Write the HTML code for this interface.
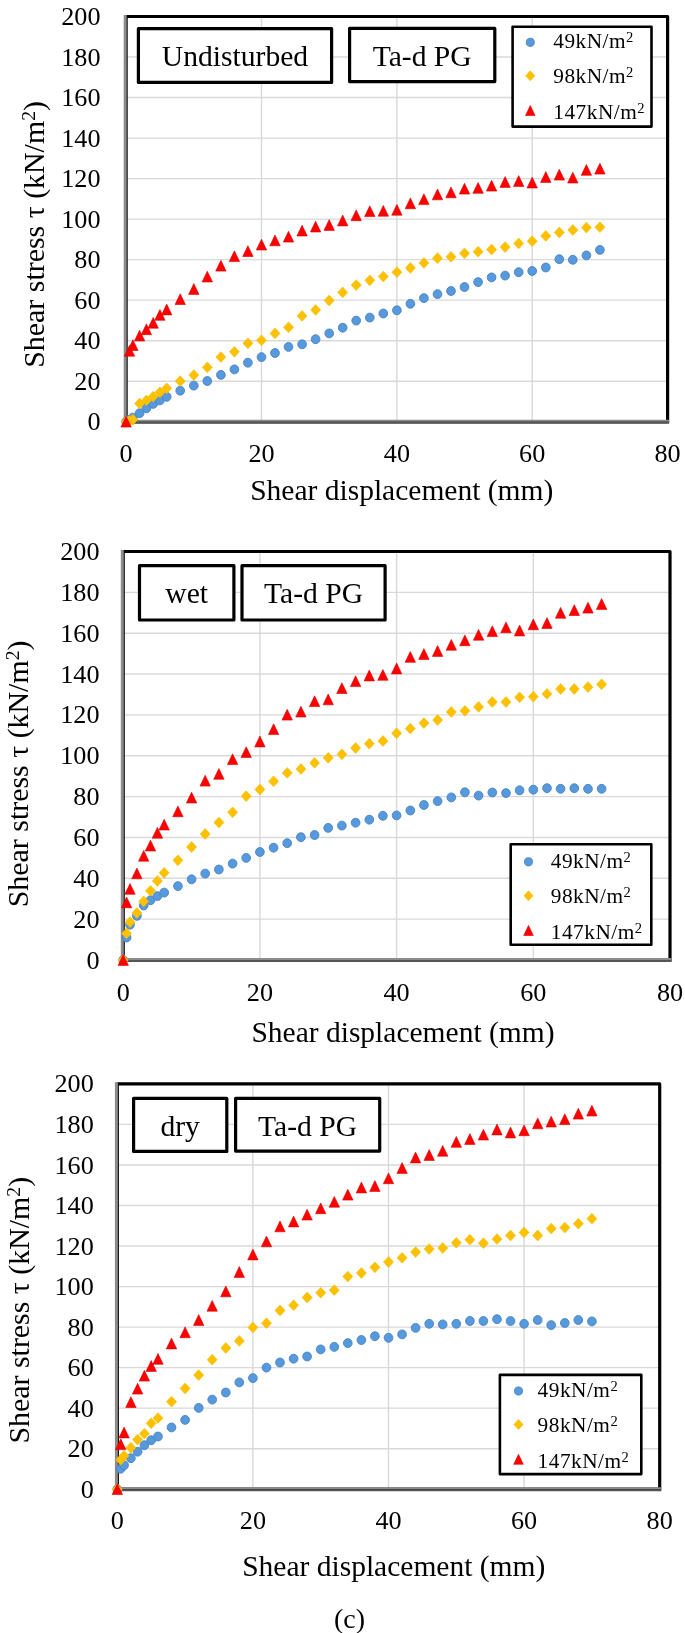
<!DOCTYPE html>
<html><head><meta charset="utf-8"><style>
html,body{margin:0;padding:0;background:#fff;}
svg{display:block;filter:blur(0.4px);}
text{font-family:"Liberation Serif", serif;fill:#000;}
</style></head><body>
<svg width="685" height="1633" viewBox="0 0 685 1633">
<rect width="685" height="1633" fill="#fff"/>
<line x1="126.1" y1="381.2" x2="667.6" y2="381.2" stroke="#d9d9d9" stroke-width="1.4"/>
<line x1="126.1" y1="340.7" x2="667.6" y2="340.7" stroke="#d9d9d9" stroke-width="1.4"/>
<line x1="126.1" y1="300.1" x2="667.6" y2="300.1" stroke="#d9d9d9" stroke-width="1.4"/>
<line x1="126.1" y1="259.6" x2="667.6" y2="259.6" stroke="#d9d9d9" stroke-width="1.4"/>
<line x1="126.1" y1="219.1" x2="667.6" y2="219.1" stroke="#d9d9d9" stroke-width="1.4"/>
<line x1="126.1" y1="178.6" x2="667.6" y2="178.6" stroke="#d9d9d9" stroke-width="1.4"/>
<line x1="126.1" y1="138.1" x2="667.6" y2="138.1" stroke="#d9d9d9" stroke-width="1.4"/>
<line x1="126.1" y1="97.5" x2="667.6" y2="97.5" stroke="#d9d9d9" stroke-width="1.4"/>
<line x1="126.1" y1="57.0" x2="667.6" y2="57.0" stroke="#d9d9d9" stroke-width="1.4"/>
<line x1="261.5" y1="16.5" x2="261.5" y2="421.7" stroke="#d9d9d9" stroke-width="1.4"/>
<line x1="396.9" y1="16.5" x2="396.9" y2="421.7" stroke="#d9d9d9" stroke-width="1.4"/>
<line x1="532.2" y1="16.5" x2="532.2" y2="421.7" stroke="#d9d9d9" stroke-width="1.4"/>
<rect x="126.1" y="16.5" width="541.5" height="405.2" fill="none" stroke="#000" stroke-width="3.2" stroke-linejoin="round"/>
<line x1="125.2" y1="14.9" x2="125.2" y2="423.5" stroke="#8c8c8c" stroke-width="3"/>
<line x1="123.7" y1="420.8" x2="669.2" y2="420.8" stroke="#8c8c8c" stroke-width="2"/>
<line x1="123.7" y1="422.7" x2="669.2" y2="422.7" stroke="#555" stroke-width="2"/>
<rect x="138.4" y="28.7" width="193.2" height="53.7" fill="#fff" stroke="#000" stroke-width="3.2" stroke-linejoin="round"/>
<text x="235.0" y="65.6" font-size="29.6" text-anchor="middle">Undisturbed</text>
<rect x="349.6" y="28.4" width="145.2" height="53.2" fill="#fff" stroke="#000" stroke-width="3.2" stroke-linejoin="round"/>
<text x="422.2" y="65.6" font-size="29.6" text-anchor="middle">Ta-d PG</text>
<ellipse cx="126.1" cy="421.7" rx="4.35" ry="4.45" fill="#5699dc" stroke="#4a83c2" stroke-width="0.9"/>
<ellipse cx="129.5" cy="419.7" rx="4.35" ry="4.45" fill="#5699dc" stroke="#4a83c2" stroke-width="0.9"/>
<ellipse cx="132.9" cy="417.6" rx="4.35" ry="4.45" fill="#5699dc" stroke="#4a83c2" stroke-width="0.9"/>
<ellipse cx="139.6" cy="413.2" rx="4.35" ry="4.45" fill="#5699dc" stroke="#4a83c2" stroke-width="0.9"/>
<ellipse cx="146.4" cy="408.3" rx="4.35" ry="4.45" fill="#5699dc" stroke="#4a83c2" stroke-width="0.9"/>
<ellipse cx="153.2" cy="403.9" rx="4.35" ry="4.45" fill="#5699dc" stroke="#4a83c2" stroke-width="0.9"/>
<ellipse cx="159.9" cy="400.4" rx="4.35" ry="4.45" fill="#5699dc" stroke="#4a83c2" stroke-width="0.9"/>
<ellipse cx="166.7" cy="396.8" rx="4.35" ry="4.45" fill="#5699dc" stroke="#4a83c2" stroke-width="0.9"/>
<ellipse cx="180.2" cy="390.7" rx="4.35" ry="4.45" fill="#5699dc" stroke="#4a83c2" stroke-width="0.9"/>
<ellipse cx="193.8" cy="385.6" rx="4.35" ry="4.45" fill="#5699dc" stroke="#4a83c2" stroke-width="0.9"/>
<ellipse cx="207.3" cy="381.0" rx="4.35" ry="4.45" fill="#5699dc" stroke="#4a83c2" stroke-width="0.9"/>
<ellipse cx="220.9" cy="374.9" rx="4.35" ry="4.45" fill="#5699dc" stroke="#4a83c2" stroke-width="0.9"/>
<ellipse cx="234.4" cy="369.4" rx="4.35" ry="4.45" fill="#5699dc" stroke="#4a83c2" stroke-width="0.9"/>
<ellipse cx="247.9" cy="362.7" rx="4.35" ry="4.45" fill="#5699dc" stroke="#4a83c2" stroke-width="0.9"/>
<ellipse cx="261.5" cy="357.1" rx="4.35" ry="4.45" fill="#5699dc" stroke="#4a83c2" stroke-width="0.9"/>
<ellipse cx="275.0" cy="353.0" rx="4.35" ry="4.45" fill="#5699dc" stroke="#4a83c2" stroke-width="0.9"/>
<ellipse cx="288.5" cy="346.9" rx="4.35" ry="4.45" fill="#5699dc" stroke="#4a83c2" stroke-width="0.9"/>
<ellipse cx="302.1" cy="344.3" rx="4.35" ry="4.45" fill="#5699dc" stroke="#4a83c2" stroke-width="0.9"/>
<ellipse cx="315.6" cy="339.2" rx="4.35" ry="4.45" fill="#5699dc" stroke="#4a83c2" stroke-width="0.9"/>
<ellipse cx="329.2" cy="333.4" rx="4.35" ry="4.45" fill="#5699dc" stroke="#4a83c2" stroke-width="0.9"/>
<ellipse cx="342.7" cy="327.7" rx="4.35" ry="4.45" fill="#5699dc" stroke="#4a83c2" stroke-width="0.9"/>
<ellipse cx="356.2" cy="320.6" rx="4.35" ry="4.45" fill="#5699dc" stroke="#4a83c2" stroke-width="0.9"/>
<ellipse cx="369.8" cy="317.6" rx="4.35" ry="4.45" fill="#5699dc" stroke="#4a83c2" stroke-width="0.9"/>
<ellipse cx="383.3" cy="313.5" rx="4.35" ry="4.45" fill="#5699dc" stroke="#4a83c2" stroke-width="0.9"/>
<ellipse cx="396.9" cy="310.3" rx="4.35" ry="4.45" fill="#5699dc" stroke="#4a83c2" stroke-width="0.9"/>
<ellipse cx="410.4" cy="303.8" rx="4.35" ry="4.45" fill="#5699dc" stroke="#4a83c2" stroke-width="0.9"/>
<ellipse cx="423.9" cy="298.1" rx="4.35" ry="4.45" fill="#5699dc" stroke="#4a83c2" stroke-width="0.9"/>
<ellipse cx="437.5" cy="294.1" rx="4.35" ry="4.45" fill="#5699dc" stroke="#4a83c2" stroke-width="0.9"/>
<ellipse cx="451.0" cy="291.0" rx="4.35" ry="4.45" fill="#5699dc" stroke="#4a83c2" stroke-width="0.9"/>
<ellipse cx="464.5" cy="287.0" rx="4.35" ry="4.45" fill="#5699dc" stroke="#4a83c2" stroke-width="0.9"/>
<ellipse cx="478.1" cy="282.1" rx="4.35" ry="4.45" fill="#5699dc" stroke="#4a83c2" stroke-width="0.9"/>
<ellipse cx="491.6" cy="277.4" rx="4.35" ry="4.45" fill="#5699dc" stroke="#4a83c2" stroke-width="0.9"/>
<ellipse cx="505.1" cy="275.6" rx="4.35" ry="4.45" fill="#5699dc" stroke="#4a83c2" stroke-width="0.9"/>
<ellipse cx="518.7" cy="272.2" rx="4.35" ry="4.45" fill="#5699dc" stroke="#4a83c2" stroke-width="0.9"/>
<ellipse cx="532.2" cy="271.0" rx="4.35" ry="4.45" fill="#5699dc" stroke="#4a83c2" stroke-width="0.9"/>
<ellipse cx="545.8" cy="267.5" rx="4.35" ry="4.45" fill="#5699dc" stroke="#4a83c2" stroke-width="0.9"/>
<ellipse cx="559.3" cy="259.2" rx="4.35" ry="4.45" fill="#5699dc" stroke="#4a83c2" stroke-width="0.9"/>
<ellipse cx="572.8" cy="259.8" rx="4.35" ry="4.45" fill="#5699dc" stroke="#4a83c2" stroke-width="0.9"/>
<ellipse cx="586.4" cy="255.4" rx="4.35" ry="4.45" fill="#5699dc" stroke="#4a83c2" stroke-width="0.9"/>
<ellipse cx="599.9" cy="249.9" rx="4.35" ry="4.45" fill="#5699dc" stroke="#4a83c2" stroke-width="0.9"/>
<path d="M126.1 416.3L131.1 421.7L126.1 427.1L121.1 421.7Z" fill="#ffc000" stroke="#ecbf00" stroke-width="0.6" stroke-linejoin="round"/>
<path d="M129.5 415.3L134.5 420.7L129.5 426.1L124.5 420.7Z" fill="#ffc000" stroke="#ecbf00" stroke-width="0.6" stroke-linejoin="round"/>
<path d="M132.9 414.3L137.9 419.7L132.9 425.1L127.8 419.7Z" fill="#ffc000" stroke="#ecbf00" stroke-width="0.6" stroke-linejoin="round"/>
<path d="M139.6 398.1L144.7 403.5L139.6 408.9L134.6 403.5Z" fill="#ffc000" stroke="#ecbf00" stroke-width="0.6" stroke-linejoin="round"/>
<path d="M146.4 395.0L151.4 400.4L146.4 405.8L141.4 400.4Z" fill="#ffc000" stroke="#ecbf00" stroke-width="0.6" stroke-linejoin="round"/>
<path d="M153.2 391.2L158.2 396.6L153.2 402.0L148.2 396.6Z" fill="#ffc000" stroke="#ecbf00" stroke-width="0.6" stroke-linejoin="round"/>
<path d="M159.9 386.9L165.0 392.3L159.9 397.7L154.9 392.3Z" fill="#ffc000" stroke="#ecbf00" stroke-width="0.6" stroke-linejoin="round"/>
<path d="M166.7 382.9L171.7 388.3L166.7 393.7L161.7 388.3Z" fill="#ffc000" stroke="#ecbf00" stroke-width="0.6" stroke-linejoin="round"/>
<path d="M180.2 375.8L185.3 381.2L180.2 386.6L175.2 381.2Z" fill="#ffc000" stroke="#ecbf00" stroke-width="0.6" stroke-linejoin="round"/>
<path d="M193.8 369.7L198.8 375.1L193.8 380.5L188.8 375.1Z" fill="#ffc000" stroke="#ecbf00" stroke-width="0.6" stroke-linejoin="round"/>
<path d="M207.3 362.0L212.3 367.4L207.3 372.8L202.3 367.4Z" fill="#ffc000" stroke="#ecbf00" stroke-width="0.6" stroke-linejoin="round"/>
<path d="M220.9 351.7L225.9 357.1L220.9 362.5L215.8 357.1Z" fill="#ffc000" stroke="#ecbf00" stroke-width="0.6" stroke-linejoin="round"/>
<path d="M234.4 346.4L239.4 351.8L234.4 357.2L229.4 351.8Z" fill="#ffc000" stroke="#ecbf00" stroke-width="0.6" stroke-linejoin="round"/>
<path d="M247.9 337.9L253.0 343.3L247.9 348.7L242.9 343.3Z" fill="#ffc000" stroke="#ecbf00" stroke-width="0.6" stroke-linejoin="round"/>
<path d="M261.5 334.9L266.5 340.3L261.5 345.7L256.5 340.3Z" fill="#ffc000" stroke="#ecbf00" stroke-width="0.6" stroke-linejoin="round"/>
<path d="M275.0 328.0L280.0 333.4L275.0 338.8L270.0 333.4Z" fill="#ffc000" stroke="#ecbf00" stroke-width="0.6" stroke-linejoin="round"/>
<path d="M288.5 321.9L293.6 327.3L288.5 332.7L283.5 327.3Z" fill="#ffc000" stroke="#ecbf00" stroke-width="0.6" stroke-linejoin="round"/>
<path d="M302.1 310.5L307.1 315.9L302.1 321.3L297.1 315.9Z" fill="#ffc000" stroke="#ecbf00" stroke-width="0.6" stroke-linejoin="round"/>
<path d="M315.6 304.5L320.6 309.9L315.6 315.3L310.6 309.9Z" fill="#ffc000" stroke="#ecbf00" stroke-width="0.6" stroke-linejoin="round"/>
<path d="M329.2 295.1L334.2 300.5L329.2 305.9L324.1 300.5Z" fill="#ffc000" stroke="#ecbf00" stroke-width="0.6" stroke-linejoin="round"/>
<path d="M342.7 287.0L347.7 292.4L342.7 297.8L337.7 292.4Z" fill="#ffc000" stroke="#ecbf00" stroke-width="0.6" stroke-linejoin="round"/>
<path d="M356.2 279.7L361.3 285.1L356.2 290.5L351.2 285.1Z" fill="#ffc000" stroke="#ecbf00" stroke-width="0.6" stroke-linejoin="round"/>
<path d="M369.8 274.9L374.8 280.3L369.8 285.7L364.8 280.3Z" fill="#ffc000" stroke="#ecbf00" stroke-width="0.6" stroke-linejoin="round"/>
<path d="M383.3 271.2L388.3 276.6L383.3 282.0L378.3 276.6Z" fill="#ffc000" stroke="#ecbf00" stroke-width="0.6" stroke-linejoin="round"/>
<path d="M396.9 266.8L401.9 272.2L396.9 277.6L391.8 272.2Z" fill="#ffc000" stroke="#ecbf00" stroke-width="0.6" stroke-linejoin="round"/>
<path d="M410.4 262.5L415.4 267.9L410.4 273.3L405.4 267.9Z" fill="#ffc000" stroke="#ecbf00" stroke-width="0.6" stroke-linejoin="round"/>
<path d="M423.9 257.5L428.9 262.9L423.9 268.3L418.9 262.9Z" fill="#ffc000" stroke="#ecbf00" stroke-width="0.6" stroke-linejoin="round"/>
<path d="M437.5 252.8L442.5 258.2L437.5 263.6L432.4 258.2Z" fill="#ffc000" stroke="#ecbf00" stroke-width="0.6" stroke-linejoin="round"/>
<path d="M451.0 251.4L456.0 256.8L451.0 262.2L446.0 256.8Z" fill="#ffc000" stroke="#ecbf00" stroke-width="0.6" stroke-linejoin="round"/>
<path d="M464.5 247.9L469.6 253.3L464.5 258.7L459.5 253.3Z" fill="#ffc000" stroke="#ecbf00" stroke-width="0.6" stroke-linejoin="round"/>
<path d="M478.1 246.3L483.1 251.7L478.1 257.1L473.1 251.7Z" fill="#ffc000" stroke="#ecbf00" stroke-width="0.6" stroke-linejoin="round"/>
<path d="M491.6 244.1L496.6 249.5L491.6 254.9L486.6 249.5Z" fill="#ffc000" stroke="#ecbf00" stroke-width="0.6" stroke-linejoin="round"/>
<path d="M505.1 241.7L510.2 247.1L505.1 252.5L500.1 247.1Z" fill="#ffc000" stroke="#ecbf00" stroke-width="0.6" stroke-linejoin="round"/>
<path d="M518.7 238.0L523.7 243.4L518.7 248.8L513.7 243.4Z" fill="#ffc000" stroke="#ecbf00" stroke-width="0.6" stroke-linejoin="round"/>
<path d="M532.2 235.8L537.2 241.2L532.2 246.6L527.2 241.2Z" fill="#ffc000" stroke="#ecbf00" stroke-width="0.6" stroke-linejoin="round"/>
<path d="M545.8 230.5L550.8 235.9L545.8 241.3L540.7 235.9Z" fill="#ffc000" stroke="#ecbf00" stroke-width="0.6" stroke-linejoin="round"/>
<path d="M559.3 227.1L564.3 232.5L559.3 237.9L554.3 232.5Z" fill="#ffc000" stroke="#ecbf00" stroke-width="0.6" stroke-linejoin="round"/>
<path d="M572.8 224.6L577.9 230.0L572.8 235.4L567.8 230.0Z" fill="#ffc000" stroke="#ecbf00" stroke-width="0.6" stroke-linejoin="round"/>
<path d="M586.4 222.2L591.4 227.6L586.4 233.0L581.4 227.6Z" fill="#ffc000" stroke="#ecbf00" stroke-width="0.6" stroke-linejoin="round"/>
<path d="M599.9 221.8L604.9 227.2L599.9 232.6L594.9 227.2Z" fill="#ffc000" stroke="#ecbf00" stroke-width="0.6" stroke-linejoin="round"/>
<path d="M126.1 416.3L131.3 427.1L120.9 427.1Z" fill="#ff0000" stroke="#d80000" stroke-width="0.6" stroke-linejoin="round"/>
<path d="M129.5 345.4L134.7 356.2L124.3 356.2Z" fill="#ff0000" stroke="#d80000" stroke-width="0.6" stroke-linejoin="round"/>
<path d="M132.9 339.7L138.1 350.5L127.7 350.5Z" fill="#ff0000" stroke="#d80000" stroke-width="0.6" stroke-linejoin="round"/>
<path d="M139.6 330.2L144.8 341.0L134.4 341.0Z" fill="#ff0000" stroke="#d80000" stroke-width="0.6" stroke-linejoin="round"/>
<path d="M146.4 323.9L151.6 334.7L141.2 334.7Z" fill="#ff0000" stroke="#d80000" stroke-width="0.6" stroke-linejoin="round"/>
<path d="M153.2 317.4L158.4 328.2L148.0 328.2Z" fill="#ff0000" stroke="#d80000" stroke-width="0.6" stroke-linejoin="round"/>
<path d="M159.9 309.5L165.1 320.3L154.7 320.3Z" fill="#ff0000" stroke="#d80000" stroke-width="0.6" stroke-linejoin="round"/>
<path d="M166.7 304.1L171.9 314.9L161.5 314.9Z" fill="#ff0000" stroke="#d80000" stroke-width="0.6" stroke-linejoin="round"/>
<path d="M180.2 293.7L185.4 304.5L175.1 304.5Z" fill="#ff0000" stroke="#d80000" stroke-width="0.6" stroke-linejoin="round"/>
<path d="M193.8 283.6L199.0 294.4L188.6 294.4Z" fill="#ff0000" stroke="#d80000" stroke-width="0.6" stroke-linejoin="round"/>
<path d="M207.3 271.2L212.5 282.0L202.1 282.0Z" fill="#ff0000" stroke="#d80000" stroke-width="0.6" stroke-linejoin="round"/>
<path d="M220.9 260.3L226.1 271.1L215.7 271.1Z" fill="#ff0000" stroke="#d80000" stroke-width="0.6" stroke-linejoin="round"/>
<path d="M234.4 250.8L239.6 261.6L229.2 261.6Z" fill="#ff0000" stroke="#d80000" stroke-width="0.6" stroke-linejoin="round"/>
<path d="M247.9 245.7L253.1 256.5L242.7 256.5Z" fill="#ff0000" stroke="#d80000" stroke-width="0.6" stroke-linejoin="round"/>
<path d="M261.5 239.2L266.7 250.0L256.3 250.0Z" fill="#ff0000" stroke="#d80000" stroke-width="0.6" stroke-linejoin="round"/>
<path d="M275.0 235.0L280.2 245.8L269.8 245.8Z" fill="#ff0000" stroke="#d80000" stroke-width="0.6" stroke-linejoin="round"/>
<path d="M288.5 231.3L293.7 242.1L283.3 242.1Z" fill="#ff0000" stroke="#d80000" stroke-width="0.6" stroke-linejoin="round"/>
<path d="M302.1 225.2L307.3 236.0L296.9 236.0Z" fill="#ff0000" stroke="#d80000" stroke-width="0.6" stroke-linejoin="round"/>
<path d="M315.6 221.2L320.8 232.0L310.4 232.0Z" fill="#ff0000" stroke="#d80000" stroke-width="0.6" stroke-linejoin="round"/>
<path d="M329.2 219.6L334.4 230.4L324.0 230.4Z" fill="#ff0000" stroke="#d80000" stroke-width="0.6" stroke-linejoin="round"/>
<path d="M342.7 215.1L347.9 225.9L337.5 225.9Z" fill="#ff0000" stroke="#d80000" stroke-width="0.6" stroke-linejoin="round"/>
<path d="M356.2 209.9L361.4 220.7L351.0 220.7Z" fill="#ff0000" stroke="#d80000" stroke-width="0.6" stroke-linejoin="round"/>
<path d="M369.8 205.8L375.0 216.6L364.6 216.6Z" fill="#ff0000" stroke="#d80000" stroke-width="0.6" stroke-linejoin="round"/>
<path d="M383.3 205.4L388.5 216.2L378.1 216.2Z" fill="#ff0000" stroke="#d80000" stroke-width="0.6" stroke-linejoin="round"/>
<path d="M396.9 204.4L402.1 215.2L391.7 215.2Z" fill="#ff0000" stroke="#d80000" stroke-width="0.6" stroke-linejoin="round"/>
<path d="M410.4 197.9L415.6 208.7L405.2 208.7Z" fill="#ff0000" stroke="#d80000" stroke-width="0.6" stroke-linejoin="round"/>
<path d="M423.9 193.8L429.1 204.6L418.7 204.6Z" fill="#ff0000" stroke="#d80000" stroke-width="0.6" stroke-linejoin="round"/>
<path d="M437.5 189.0L442.7 199.8L432.3 199.8Z" fill="#ff0000" stroke="#d80000" stroke-width="0.6" stroke-linejoin="round"/>
<path d="M451.0 187.0L456.2 197.8L445.8 197.8Z" fill="#ff0000" stroke="#d80000" stroke-width="0.6" stroke-linejoin="round"/>
<path d="M464.5 183.3L469.7 194.1L459.3 194.1Z" fill="#ff0000" stroke="#d80000" stroke-width="0.6" stroke-linejoin="round"/>
<path d="M478.1 182.5L483.3 193.3L472.9 193.3Z" fill="#ff0000" stroke="#d80000" stroke-width="0.6" stroke-linejoin="round"/>
<path d="M491.6 180.3L496.8 191.1L486.4 191.1Z" fill="#ff0000" stroke="#d80000" stroke-width="0.6" stroke-linejoin="round"/>
<path d="M505.1 176.6L510.3 187.4L499.9 187.4Z" fill="#ff0000" stroke="#d80000" stroke-width="0.6" stroke-linejoin="round"/>
<path d="M518.7 175.6L523.9 186.4L513.5 186.4Z" fill="#ff0000" stroke="#d80000" stroke-width="0.6" stroke-linejoin="round"/>
<path d="M532.2 177.2L537.4 188.0L527.0 188.0Z" fill="#ff0000" stroke="#d80000" stroke-width="0.6" stroke-linejoin="round"/>
<path d="M545.8 171.6L551.0 182.4L540.6 182.4Z" fill="#ff0000" stroke="#d80000" stroke-width="0.6" stroke-linejoin="round"/>
<path d="M559.3 169.3L564.5 180.1L554.1 180.1Z" fill="#ff0000" stroke="#d80000" stroke-width="0.6" stroke-linejoin="round"/>
<path d="M572.8 172.2L578.0 183.0L567.6 183.0Z" fill="#ff0000" stroke="#d80000" stroke-width="0.6" stroke-linejoin="round"/>
<path d="M586.4 164.5L591.6 175.3L581.2 175.3Z" fill="#ff0000" stroke="#d80000" stroke-width="0.6" stroke-linejoin="round"/>
<path d="M599.9 163.3L605.1 174.1L594.7 174.1Z" fill="#ff0000" stroke="#d80000" stroke-width="0.6" stroke-linejoin="round"/>
<rect x="512.6" y="26.7" width="138.9" height="99.9" fill="#fff" stroke="#000" stroke-width="2.6" stroke-linejoin="round"/>
<ellipse cx="530.3" cy="42.3" rx="4.0" ry="4.10" fill="#5699dc" stroke="#4a83c2" stroke-width="0.9"/>
<path d="M530.3 70.8L534.9 75.8L530.3 80.8L525.6 75.8Z" fill="#ffc000" stroke="#ecbf00" stroke-width="0.6" stroke-linejoin="round"/>
<path d="M530.3 105.5L535.1 115.5L525.5 115.5Z" fill="#ff0000" stroke="#d80000" stroke-width="0.6" stroke-linejoin="round"/>
<text x="553.3" y="47.8" font-size="21.3" letter-spacing="0.5">49kN/m<tspan font-size="14.5" dy="-6.0">2</tspan></text>
<text x="553.3" y="82.5" font-size="21.3" letter-spacing="0.5">98kN/m<tspan font-size="14.5" dy="-6.0">2</tspan></text>
<text x="553.3" y="118.7" font-size="21.3" letter-spacing="0.5">147kN/m<tspan font-size="14.5" dy="-6.0">2</tspan></text>
<text x="100.5" y="430.2" font-size="26.2" text-anchor="end">0</text>
<text x="100.5" y="389.7" font-size="26.2" text-anchor="end">20</text>
<text x="100.5" y="349.2" font-size="26.2" text-anchor="end">40</text>
<text x="100.5" y="308.6" font-size="26.2" text-anchor="end">60</text>
<text x="100.5" y="268.1" font-size="26.2" text-anchor="end">80</text>
<text x="100.5" y="227.6" font-size="26.2" text-anchor="end">100</text>
<text x="100.5" y="187.1" font-size="26.2" text-anchor="end">120</text>
<text x="100.5" y="146.6" font-size="26.2" text-anchor="end">140</text>
<text x="100.5" y="106.0" font-size="26.2" text-anchor="end">160</text>
<text x="100.5" y="65.5" font-size="26.2" text-anchor="end">180</text>
<text x="100.5" y="25.0" font-size="26.2" text-anchor="end">200</text>
<text x="126.1" y="462.2" font-size="26.2" text-anchor="middle">0</text>
<text x="261.5" y="462.2" font-size="26.2" text-anchor="middle">20</text>
<text x="396.9" y="462.2" font-size="26.2" text-anchor="middle">40</text>
<text x="532.2" y="462.2" font-size="26.2" text-anchor="middle">60</text>
<text x="667.6" y="462.2" font-size="26.2" text-anchor="middle">80</text>
<text x="250.2" y="500.3" font-size="29.5">Shear displacement (mm)</text>
<text transform="translate(44.0 234.4) rotate(-90)" x="0" y="0" font-size="29.9" text-anchor="middle">Shear stress &#964; (kN/m<tspan font-size="19.7" dy="-9.0">2</tspan><tspan dy="9.0">)</tspan></text>
<line x1="123.2" y1="919.1" x2="670.0" y2="919.1" stroke="#d9d9d9" stroke-width="1.4"/>
<line x1="123.2" y1="878.3" x2="670.0" y2="878.3" stroke="#d9d9d9" stroke-width="1.4"/>
<line x1="123.2" y1="837.5" x2="670.0" y2="837.5" stroke="#d9d9d9" stroke-width="1.4"/>
<line x1="123.2" y1="796.6" x2="670.0" y2="796.6" stroke="#d9d9d9" stroke-width="1.4"/>
<line x1="123.2" y1="755.8" x2="670.0" y2="755.8" stroke="#d9d9d9" stroke-width="1.4"/>
<line x1="123.2" y1="714.9" x2="670.0" y2="714.9" stroke="#d9d9d9" stroke-width="1.4"/>
<line x1="123.2" y1="674.0" x2="670.0" y2="674.0" stroke="#d9d9d9" stroke-width="1.4"/>
<line x1="123.2" y1="633.2" x2="670.0" y2="633.2" stroke="#d9d9d9" stroke-width="1.4"/>
<line x1="123.2" y1="592.4" x2="670.0" y2="592.4" stroke="#d9d9d9" stroke-width="1.4"/>
<line x1="259.9" y1="551.5" x2="259.9" y2="960.0" stroke="#d9d9d9" stroke-width="1.4"/>
<line x1="396.6" y1="551.5" x2="396.6" y2="960.0" stroke="#d9d9d9" stroke-width="1.4"/>
<line x1="533.3" y1="551.5" x2="533.3" y2="960.0" stroke="#d9d9d9" stroke-width="1.4"/>
<rect x="123.2" y="551.5" width="546.8" height="408.5" fill="none" stroke="#000" stroke-width="3.2" stroke-linejoin="round"/>
<line x1="122.3" y1="549.9" x2="122.3" y2="961.8" stroke="#8c8c8c" stroke-width="3"/>
<line x1="120.8" y1="959.1" x2="671.6" y2="959.1" stroke="#8c8c8c" stroke-width="2"/>
<line x1="120.8" y1="961.0" x2="671.6" y2="961.0" stroke="#555" stroke-width="2"/>
<rect x="139.5" y="565.7" width="94.4" height="54.3" fill="#fff" stroke="#000" stroke-width="3.2" stroke-linejoin="round"/>
<text x="186.7" y="602.7" font-size="29.6" text-anchor="middle">wet</text>
<rect x="242.0" y="565.7" width="143.1" height="54.3" fill="#fff" stroke="#000" stroke-width="3.2" stroke-linejoin="round"/>
<text x="313.6" y="602.7" font-size="29.6" text-anchor="middle">Ta-d PG</text>
<ellipse cx="123.2" cy="960.0" rx="4.35" ry="4.45" fill="#5699dc" stroke="#4a83c2" stroke-width="0.9"/>
<ellipse cx="126.6" cy="937.5" rx="4.35" ry="4.45" fill="#5699dc" stroke="#4a83c2" stroke-width="0.9"/>
<ellipse cx="130.0" cy="924.7" rx="4.35" ry="4.45" fill="#5699dc" stroke="#4a83c2" stroke-width="0.9"/>
<ellipse cx="136.9" cy="915.9" rx="4.35" ry="4.45" fill="#5699dc" stroke="#4a83c2" stroke-width="0.9"/>
<ellipse cx="143.7" cy="905.5" rx="4.35" ry="4.45" fill="#5699dc" stroke="#4a83c2" stroke-width="0.9"/>
<ellipse cx="150.5" cy="900.2" rx="4.35" ry="4.45" fill="#5699dc" stroke="#4a83c2" stroke-width="0.9"/>
<ellipse cx="157.4" cy="896.1" rx="4.35" ry="4.45" fill="#5699dc" stroke="#4a83c2" stroke-width="0.9"/>
<ellipse cx="164.2" cy="892.6" rx="4.35" ry="4.45" fill="#5699dc" stroke="#4a83c2" stroke-width="0.9"/>
<ellipse cx="177.9" cy="886.1" rx="4.35" ry="4.45" fill="#5699dc" stroke="#4a83c2" stroke-width="0.9"/>
<ellipse cx="191.6" cy="879.3" rx="4.35" ry="4.45" fill="#5699dc" stroke="#4a83c2" stroke-width="0.9"/>
<ellipse cx="205.2" cy="873.6" rx="4.35" ry="4.45" fill="#5699dc" stroke="#4a83c2" stroke-width="0.9"/>
<ellipse cx="218.9" cy="869.5" rx="4.35" ry="4.45" fill="#5699dc" stroke="#4a83c2" stroke-width="0.9"/>
<ellipse cx="232.6" cy="863.6" rx="4.35" ry="4.45" fill="#5699dc" stroke="#4a83c2" stroke-width="0.9"/>
<ellipse cx="246.2" cy="857.9" rx="4.35" ry="4.45" fill="#5699dc" stroke="#4a83c2" stroke-width="0.9"/>
<ellipse cx="259.9" cy="852.0" rx="4.35" ry="4.45" fill="#5699dc" stroke="#4a83c2" stroke-width="0.9"/>
<ellipse cx="273.6" cy="847.7" rx="4.35" ry="4.45" fill="#5699dc" stroke="#4a83c2" stroke-width="0.9"/>
<ellipse cx="287.2" cy="843.2" rx="4.35" ry="4.45" fill="#5699dc" stroke="#4a83c2" stroke-width="0.9"/>
<ellipse cx="300.9" cy="837.2" rx="4.35" ry="4.45" fill="#5699dc" stroke="#4a83c2" stroke-width="0.9"/>
<ellipse cx="314.6" cy="835.0" rx="4.35" ry="4.45" fill="#5699dc" stroke="#4a83c2" stroke-width="0.9"/>
<ellipse cx="328.2" cy="827.9" rx="4.35" ry="4.45" fill="#5699dc" stroke="#4a83c2" stroke-width="0.9"/>
<ellipse cx="341.9" cy="825.6" rx="4.35" ry="4.45" fill="#5699dc" stroke="#4a83c2" stroke-width="0.9"/>
<ellipse cx="355.6" cy="822.7" rx="4.35" ry="4.45" fill="#5699dc" stroke="#4a83c2" stroke-width="0.9"/>
<ellipse cx="369.3" cy="819.7" rx="4.35" ry="4.45" fill="#5699dc" stroke="#4a83c2" stroke-width="0.9"/>
<ellipse cx="382.9" cy="815.8" rx="4.35" ry="4.45" fill="#5699dc" stroke="#4a83c2" stroke-width="0.9"/>
<ellipse cx="396.6" cy="815.4" rx="4.35" ry="4.45" fill="#5699dc" stroke="#4a83c2" stroke-width="0.9"/>
<ellipse cx="410.3" cy="810.5" rx="4.35" ry="4.45" fill="#5699dc" stroke="#4a83c2" stroke-width="0.9"/>
<ellipse cx="423.9" cy="805.0" rx="4.35" ry="4.45" fill="#5699dc" stroke="#4a83c2" stroke-width="0.9"/>
<ellipse cx="437.6" cy="801.1" rx="4.35" ry="4.45" fill="#5699dc" stroke="#4a83c2" stroke-width="0.9"/>
<ellipse cx="451.3" cy="797.4" rx="4.35" ry="4.45" fill="#5699dc" stroke="#4a83c2" stroke-width="0.9"/>
<ellipse cx="464.9" cy="792.3" rx="4.35" ry="4.45" fill="#5699dc" stroke="#4a83c2" stroke-width="0.9"/>
<ellipse cx="478.6" cy="795.6" rx="4.35" ry="4.45" fill="#5699dc" stroke="#4a83c2" stroke-width="0.9"/>
<ellipse cx="492.3" cy="792.5" rx="4.35" ry="4.45" fill="#5699dc" stroke="#4a83c2" stroke-width="0.9"/>
<ellipse cx="506.0" cy="793.1" rx="4.35" ry="4.45" fill="#5699dc" stroke="#4a83c2" stroke-width="0.9"/>
<ellipse cx="519.6" cy="790.3" rx="4.35" ry="4.45" fill="#5699dc" stroke="#4a83c2" stroke-width="0.9"/>
<ellipse cx="533.3" cy="789.7" rx="4.35" ry="4.45" fill="#5699dc" stroke="#4a83c2" stroke-width="0.9"/>
<ellipse cx="547.0" cy="788.2" rx="4.35" ry="4.45" fill="#5699dc" stroke="#4a83c2" stroke-width="0.9"/>
<ellipse cx="560.6" cy="788.8" rx="4.35" ry="4.45" fill="#5699dc" stroke="#4a83c2" stroke-width="0.9"/>
<ellipse cx="574.3" cy="788.2" rx="4.35" ry="4.45" fill="#5699dc" stroke="#4a83c2" stroke-width="0.9"/>
<ellipse cx="588.0" cy="788.8" rx="4.35" ry="4.45" fill="#5699dc" stroke="#4a83c2" stroke-width="0.9"/>
<ellipse cx="601.6" cy="788.8" rx="4.35" ry="4.45" fill="#5699dc" stroke="#4a83c2" stroke-width="0.9"/>
<path d="M123.2 954.6L128.2 960.0L123.2 965.4L118.2 960.0Z" fill="#ffc000" stroke="#ecbf00" stroke-width="0.6" stroke-linejoin="round"/>
<path d="M126.6 928.0L131.6 933.4L126.6 938.8L121.6 933.4Z" fill="#ffc000" stroke="#ecbf00" stroke-width="0.6" stroke-linejoin="round"/>
<path d="M130.0 916.8L135.1 922.2L130.0 927.6L125.0 922.2Z" fill="#ffc000" stroke="#ecbf00" stroke-width="0.6" stroke-linejoin="round"/>
<path d="M136.9 907.6L141.9 913.0L136.9 918.4L131.8 913.0Z" fill="#ffc000" stroke="#ecbf00" stroke-width="0.6" stroke-linejoin="round"/>
<path d="M143.7 896.0L148.7 901.4L143.7 906.8L138.7 901.4Z" fill="#ffc000" stroke="#ecbf00" stroke-width="0.6" stroke-linejoin="round"/>
<path d="M150.5 885.4L155.6 890.8L150.5 896.2L145.5 890.8Z" fill="#ffc000" stroke="#ecbf00" stroke-width="0.6" stroke-linejoin="round"/>
<path d="M157.4 875.6L162.4 881.0L157.4 886.4L152.4 881.0Z" fill="#ffc000" stroke="#ecbf00" stroke-width="0.6" stroke-linejoin="round"/>
<path d="M164.2 867.4L169.2 872.8L164.2 878.2L159.2 872.8Z" fill="#ffc000" stroke="#ecbf00" stroke-width="0.6" stroke-linejoin="round"/>
<path d="M177.9 854.9L182.9 860.3L177.9 865.7L172.9 860.3Z" fill="#ffc000" stroke="#ecbf00" stroke-width="0.6" stroke-linejoin="round"/>
<path d="M191.6 841.6L196.6 847.0L191.6 852.4L186.5 847.0Z" fill="#ffc000" stroke="#ecbf00" stroke-width="0.6" stroke-linejoin="round"/>
<path d="M205.2 828.6L210.2 834.0L205.2 839.4L200.2 834.0Z" fill="#ffc000" stroke="#ecbf00" stroke-width="0.6" stroke-linejoin="round"/>
<path d="M218.9 817.1L223.9 822.5L218.9 827.9L213.9 822.5Z" fill="#ffc000" stroke="#ecbf00" stroke-width="0.6" stroke-linejoin="round"/>
<path d="M232.6 806.9L237.6 812.3L232.6 817.7L227.5 812.3Z" fill="#ffc000" stroke="#ecbf00" stroke-width="0.6" stroke-linejoin="round"/>
<path d="M246.2 790.8L251.3 796.2L246.2 801.6L241.2 796.2Z" fill="#ffc000" stroke="#ecbf00" stroke-width="0.6" stroke-linejoin="round"/>
<path d="M259.9 784.1L264.9 789.5L259.9 794.9L254.9 789.5Z" fill="#ffc000" stroke="#ecbf00" stroke-width="0.6" stroke-linejoin="round"/>
<path d="M273.6 775.9L278.6 781.3L273.6 786.7L268.5 781.3Z" fill="#ffc000" stroke="#ecbf00" stroke-width="0.6" stroke-linejoin="round"/>
<path d="M287.2 767.5L292.3 772.9L287.2 778.3L282.2 772.9Z" fill="#ffc000" stroke="#ecbf00" stroke-width="0.6" stroke-linejoin="round"/>
<path d="M300.9 763.6L305.9 769.0L300.9 774.4L295.9 769.0Z" fill="#ffc000" stroke="#ecbf00" stroke-width="0.6" stroke-linejoin="round"/>
<path d="M314.6 757.5L319.6 762.9L314.6 768.3L309.6 762.9Z" fill="#ffc000" stroke="#ecbf00" stroke-width="0.6" stroke-linejoin="round"/>
<path d="M328.2 752.4L333.3 757.8L328.2 763.2L323.2 757.8Z" fill="#ffc000" stroke="#ecbf00" stroke-width="0.6" stroke-linejoin="round"/>
<path d="M341.9 748.9L346.9 754.3L341.9 759.7L336.9 754.3Z" fill="#ffc000" stroke="#ecbf00" stroke-width="0.6" stroke-linejoin="round"/>
<path d="M355.6 742.6L360.6 748.0L355.6 753.4L350.6 748.0Z" fill="#ffc000" stroke="#ecbf00" stroke-width="0.6" stroke-linejoin="round"/>
<path d="M369.3 738.3L374.3 743.7L369.3 749.1L364.2 743.7Z" fill="#ffc000" stroke="#ecbf00" stroke-width="0.6" stroke-linejoin="round"/>
<path d="M382.9 735.6L388.0 741.0L382.9 746.4L377.9 741.0Z" fill="#ffc000" stroke="#ecbf00" stroke-width="0.6" stroke-linejoin="round"/>
<path d="M396.6 727.9L401.6 733.3L396.6 738.7L391.6 733.3Z" fill="#ffc000" stroke="#ecbf00" stroke-width="0.6" stroke-linejoin="round"/>
<path d="M410.3 723.2L415.3 728.6L410.3 734.0L405.2 728.6Z" fill="#ffc000" stroke="#ecbf00" stroke-width="0.6" stroke-linejoin="round"/>
<path d="M423.9 717.7L429.0 723.1L423.9 728.5L418.9 723.1Z" fill="#ffc000" stroke="#ecbf00" stroke-width="0.6" stroke-linejoin="round"/>
<path d="M437.6 714.6L442.6 720.0L437.6 725.4L432.6 720.0Z" fill="#ffc000" stroke="#ecbf00" stroke-width="0.6" stroke-linejoin="round"/>
<path d="M451.3 706.6L456.3 712.0L451.3 717.4L446.3 712.0Z" fill="#ffc000" stroke="#ecbf00" stroke-width="0.6" stroke-linejoin="round"/>
<path d="M464.9 705.4L470.0 710.8L464.9 716.2L459.9 710.8Z" fill="#ffc000" stroke="#ecbf00" stroke-width="0.6" stroke-linejoin="round"/>
<path d="M478.6 701.5L483.6 706.9L478.6 712.3L473.6 706.9Z" fill="#ffc000" stroke="#ecbf00" stroke-width="0.6" stroke-linejoin="round"/>
<path d="M492.3 696.6L497.3 702.0L492.3 707.4L487.3 702.0Z" fill="#ffc000" stroke="#ecbf00" stroke-width="0.6" stroke-linejoin="round"/>
<path d="M506.0 696.6L511.0 702.0L506.0 707.4L500.9 702.0Z" fill="#ffc000" stroke="#ecbf00" stroke-width="0.6" stroke-linejoin="round"/>
<path d="M519.6 691.9L524.7 697.3L519.6 702.7L514.6 697.3Z" fill="#ffc000" stroke="#ecbf00" stroke-width="0.6" stroke-linejoin="round"/>
<path d="M533.3 691.3L538.3 696.7L533.3 702.1L528.3 696.7Z" fill="#ffc000" stroke="#ecbf00" stroke-width="0.6" stroke-linejoin="round"/>
<path d="M547.0 688.5L552.0 693.9L547.0 699.3L541.9 693.9Z" fill="#ffc000" stroke="#ecbf00" stroke-width="0.6" stroke-linejoin="round"/>
<path d="M560.6 683.6L565.7 689.0L560.6 694.4L555.6 689.0Z" fill="#ffc000" stroke="#ecbf00" stroke-width="0.6" stroke-linejoin="round"/>
<path d="M574.3 683.6L579.3 689.0L574.3 694.4L569.3 689.0Z" fill="#ffc000" stroke="#ecbf00" stroke-width="0.6" stroke-linejoin="round"/>
<path d="M588.0 681.7L593.0 687.1L588.0 692.5L583.0 687.1Z" fill="#ffc000" stroke="#ecbf00" stroke-width="0.6" stroke-linejoin="round"/>
<path d="M601.6 678.9L606.7 684.3L601.6 689.7L596.6 684.3Z" fill="#ffc000" stroke="#ecbf00" stroke-width="0.6" stroke-linejoin="round"/>
<path d="M123.2 954.6L128.4 965.4L118.0 965.4Z" fill="#ff0000" stroke="#d80000" stroke-width="0.6" stroke-linejoin="round"/>
<path d="M126.6 897.0L131.8 907.8L121.4 907.8Z" fill="#ff0000" stroke="#d80000" stroke-width="0.6" stroke-linejoin="round"/>
<path d="M130.0 883.5L135.2 894.3L124.8 894.3Z" fill="#ff0000" stroke="#d80000" stroke-width="0.6" stroke-linejoin="round"/>
<path d="M136.9 868.0L142.1 878.8L131.7 878.8Z" fill="#ff0000" stroke="#d80000" stroke-width="0.6" stroke-linejoin="round"/>
<path d="M143.7 850.4L148.9 861.2L138.5 861.2Z" fill="#ff0000" stroke="#d80000" stroke-width="0.6" stroke-linejoin="round"/>
<path d="M150.5 840.2L155.7 851.0L145.3 851.0Z" fill="#ff0000" stroke="#d80000" stroke-width="0.6" stroke-linejoin="round"/>
<path d="M157.4 827.4L162.6 838.2L152.2 838.2Z" fill="#ff0000" stroke="#d80000" stroke-width="0.6" stroke-linejoin="round"/>
<path d="M164.2 819.2L169.4 830.0L159.0 830.0Z" fill="#ff0000" stroke="#d80000" stroke-width="0.6" stroke-linejoin="round"/>
<path d="M177.9 805.9L183.1 816.7L172.7 816.7Z" fill="#ff0000" stroke="#d80000" stroke-width="0.6" stroke-linejoin="round"/>
<path d="M191.6 792.2L196.8 803.0L186.4 803.0Z" fill="#ff0000" stroke="#d80000" stroke-width="0.6" stroke-linejoin="round"/>
<path d="M205.2 775.3L210.4 786.1L200.0 786.1Z" fill="#ff0000" stroke="#d80000" stroke-width="0.6" stroke-linejoin="round"/>
<path d="M218.9 768.5L224.1 779.3L213.7 779.3Z" fill="#ff0000" stroke="#d80000" stroke-width="0.6" stroke-linejoin="round"/>
<path d="M232.6 753.8L237.8 764.6L227.4 764.6Z" fill="#ff0000" stroke="#d80000" stroke-width="0.6" stroke-linejoin="round"/>
<path d="M246.2 746.7L251.4 757.5L241.0 757.5Z" fill="#ff0000" stroke="#d80000" stroke-width="0.6" stroke-linejoin="round"/>
<path d="M259.9 736.1L265.1 746.9L254.7 746.9Z" fill="#ff0000" stroke="#d80000" stroke-width="0.6" stroke-linejoin="round"/>
<path d="M273.6 723.8L278.8 734.6L268.4 734.6Z" fill="#ff0000" stroke="#d80000" stroke-width="0.6" stroke-linejoin="round"/>
<path d="M287.2 709.3L292.4 720.1L282.0 720.1Z" fill="#ff0000" stroke="#d80000" stroke-width="0.6" stroke-linejoin="round"/>
<path d="M300.9 706.2L306.1 717.0L295.7 717.0Z" fill="#ff0000" stroke="#d80000" stroke-width="0.6" stroke-linejoin="round"/>
<path d="M314.6 695.8L319.8 706.6L309.4 706.6Z" fill="#ff0000" stroke="#d80000" stroke-width="0.6" stroke-linejoin="round"/>
<path d="M328.2 694.0L333.4 704.8L323.1 704.8Z" fill="#ff0000" stroke="#d80000" stroke-width="0.6" stroke-linejoin="round"/>
<path d="M341.9 682.7L347.1 693.5L336.7 693.5Z" fill="#ff0000" stroke="#d80000" stroke-width="0.6" stroke-linejoin="round"/>
<path d="M355.6 675.8L360.8 686.6L350.4 686.6Z" fill="#ff0000" stroke="#d80000" stroke-width="0.6" stroke-linejoin="round"/>
<path d="M369.3 670.1L374.5 680.9L364.1 680.9Z" fill="#ff0000" stroke="#d80000" stroke-width="0.6" stroke-linejoin="round"/>
<path d="M382.9 669.5L388.1 680.3L377.7 680.3Z" fill="#ff0000" stroke="#d80000" stroke-width="0.6" stroke-linejoin="round"/>
<path d="M396.6 663.1L401.8 673.9L391.4 673.9Z" fill="#ff0000" stroke="#d80000" stroke-width="0.6" stroke-linejoin="round"/>
<path d="M410.3 651.5L415.5 662.3L405.1 662.3Z" fill="#ff0000" stroke="#d80000" stroke-width="0.6" stroke-linejoin="round"/>
<path d="M423.9 648.6L429.1 659.4L418.7 659.4Z" fill="#ff0000" stroke="#d80000" stroke-width="0.6" stroke-linejoin="round"/>
<path d="M437.6 645.6L442.8 656.4L432.4 656.4Z" fill="#ff0000" stroke="#d80000" stroke-width="0.6" stroke-linejoin="round"/>
<path d="M451.3 639.4L456.5 650.2L446.1 650.2Z" fill="#ff0000" stroke="#d80000" stroke-width="0.6" stroke-linejoin="round"/>
<path d="M464.9 634.9L470.1 645.7L459.7 645.7Z" fill="#ff0000" stroke="#d80000" stroke-width="0.6" stroke-linejoin="round"/>
<path d="M478.6 629.4L483.8 640.2L473.4 640.2Z" fill="#ff0000" stroke="#d80000" stroke-width="0.6" stroke-linejoin="round"/>
<path d="M492.3 625.8L497.5 636.6L487.1 636.6Z" fill="#ff0000" stroke="#d80000" stroke-width="0.6" stroke-linejoin="round"/>
<path d="M506.0 621.9L511.2 632.7L500.8 632.7Z" fill="#ff0000" stroke="#d80000" stroke-width="0.6" stroke-linejoin="round"/>
<path d="M519.6 625.1L524.8 635.9L514.4 635.9Z" fill="#ff0000" stroke="#d80000" stroke-width="0.6" stroke-linejoin="round"/>
<path d="M533.3 619.0L538.5 629.8L528.1 629.8Z" fill="#ff0000" stroke="#d80000" stroke-width="0.6" stroke-linejoin="round"/>
<path d="M547.0 617.6L552.2 628.4L541.8 628.4Z" fill="#ff0000" stroke="#d80000" stroke-width="0.6" stroke-linejoin="round"/>
<path d="M560.6 607.4L565.8 618.2L555.4 618.2Z" fill="#ff0000" stroke="#d80000" stroke-width="0.6" stroke-linejoin="round"/>
<path d="M574.3 604.7L579.5 615.5L569.1 615.5Z" fill="#ff0000" stroke="#d80000" stroke-width="0.6" stroke-linejoin="round"/>
<path d="M588.0 602.3L593.2 613.1L582.8 613.1Z" fill="#ff0000" stroke="#d80000" stroke-width="0.6" stroke-linejoin="round"/>
<path d="M601.6 598.6L606.9 609.4L596.4 609.4Z" fill="#ff0000" stroke="#d80000" stroke-width="0.6" stroke-linejoin="round"/>
<rect x="510.7" y="844.2" width="140.6" height="100.6" fill="#fff" stroke="#000" stroke-width="2.6" stroke-linejoin="round"/>
<ellipse cx="528.5" cy="861.8" rx="4.0" ry="4.10" fill="#5699dc" stroke="#4a83c2" stroke-width="0.9"/>
<path d="M528.5 890.8L533.1 895.8L528.5 900.8L523.9 895.8Z" fill="#ffc000" stroke="#ecbf00" stroke-width="0.6" stroke-linejoin="round"/>
<path d="M528.5 925.5L533.3 935.5L523.7 935.5Z" fill="#ff0000" stroke="#d80000" stroke-width="0.6" stroke-linejoin="round"/>
<text x="550.8" y="867.7" font-size="21.3" letter-spacing="0.5">49kN/m<tspan font-size="14.5" dy="-6.0">2</tspan></text>
<text x="550.8" y="902.5" font-size="21.3" letter-spacing="0.5">98kN/m<tspan font-size="14.5" dy="-6.0">2</tspan></text>
<text x="550.8" y="939.2" font-size="21.3" letter-spacing="0.5">147kN/m<tspan font-size="14.5" dy="-6.0">2</tspan></text>
<text x="99.5" y="968.5" font-size="26.2" text-anchor="end">0</text>
<text x="99.5" y="927.6" font-size="26.2" text-anchor="end">20</text>
<text x="99.5" y="886.8" font-size="26.2" text-anchor="end">40</text>
<text x="99.5" y="846.0" font-size="26.2" text-anchor="end">60</text>
<text x="99.5" y="805.1" font-size="26.2" text-anchor="end">80</text>
<text x="99.5" y="764.2" font-size="26.2" text-anchor="end">100</text>
<text x="99.5" y="723.4" font-size="26.2" text-anchor="end">120</text>
<text x="99.5" y="682.5" font-size="26.2" text-anchor="end">140</text>
<text x="99.5" y="641.7" font-size="26.2" text-anchor="end">160</text>
<text x="99.5" y="600.9" font-size="26.2" text-anchor="end">180</text>
<text x="99.5" y="560.0" font-size="26.2" text-anchor="end">200</text>
<text x="123.2" y="1000.6" font-size="26.2" text-anchor="middle">0</text>
<text x="259.9" y="1000.6" font-size="26.2" text-anchor="middle">20</text>
<text x="396.6" y="1000.6" font-size="26.2" text-anchor="middle">40</text>
<text x="533.3" y="1000.6" font-size="26.2" text-anchor="middle">60</text>
<text x="670.0" y="1000.6" font-size="26.2" text-anchor="middle">80</text>
<text x="251.4" y="1041.5" font-size="29.5">Shear displacement (mm)</text>
<text transform="translate(28.0 773.9) rotate(-90)" x="0" y="0" font-size="29.9" text-anchor="middle">Shear stress &#964; (kN/m<tspan font-size="19.7" dy="-9.0">2</tspan><tspan dy="9.0">)</tspan></text>
<line x1="117.3" y1="1448.7" x2="659.7" y2="1448.7" stroke="#d9d9d9" stroke-width="1.4"/>
<line x1="117.3" y1="1408.1" x2="659.7" y2="1408.1" stroke="#d9d9d9" stroke-width="1.4"/>
<line x1="117.3" y1="1367.6" x2="659.7" y2="1367.6" stroke="#d9d9d9" stroke-width="1.4"/>
<line x1="117.3" y1="1327.1" x2="659.7" y2="1327.1" stroke="#d9d9d9" stroke-width="1.4"/>
<line x1="117.3" y1="1286.6" x2="659.7" y2="1286.6" stroke="#d9d9d9" stroke-width="1.4"/>
<line x1="117.3" y1="1246.0" x2="659.7" y2="1246.0" stroke="#d9d9d9" stroke-width="1.4"/>
<line x1="117.3" y1="1205.5" x2="659.7" y2="1205.5" stroke="#d9d9d9" stroke-width="1.4"/>
<line x1="117.3" y1="1165.0" x2="659.7" y2="1165.0" stroke="#d9d9d9" stroke-width="1.4"/>
<line x1="117.3" y1="1124.4" x2="659.7" y2="1124.4" stroke="#d9d9d9" stroke-width="1.4"/>
<line x1="252.9" y1="1083.9" x2="252.9" y2="1489.2" stroke="#d9d9d9" stroke-width="1.4"/>
<line x1="388.5" y1="1083.9" x2="388.5" y2="1489.2" stroke="#d9d9d9" stroke-width="1.4"/>
<line x1="524.1" y1="1083.9" x2="524.1" y2="1489.2" stroke="#d9d9d9" stroke-width="1.4"/>
<rect x="117.3" y="1083.9" width="542.4" height="405.3" fill="none" stroke="#000" stroke-width="3.2" stroke-linejoin="round"/>
<line x1="116.4" y1="1082.3" x2="116.4" y2="1491.0" stroke="#8c8c8c" stroke-width="3"/>
<line x1="114.9" y1="1488.3" x2="661.3" y2="1488.3" stroke="#8c8c8c" stroke-width="2"/>
<line x1="114.9" y1="1490.2" x2="661.3" y2="1490.2" stroke="#555" stroke-width="2"/>
<rect x="133.6" y="1098.4" width="93.2" height="53.0" fill="#fff" stroke="#000" stroke-width="3.2" stroke-linejoin="round"/>
<text x="180.2" y="1135.6" font-size="29.6" text-anchor="middle">dry</text>
<rect x="235.6" y="1098.4" width="144.1" height="52.7" fill="#fff" stroke="#000" stroke-width="3.2" stroke-linejoin="round"/>
<text x="307.6" y="1135.6" font-size="29.6" text-anchor="middle">Ta-d PG</text>
<ellipse cx="117.3" cy="1489.2" rx="4.35" ry="4.45" fill="#5699dc" stroke="#4a83c2" stroke-width="0.9"/>
<ellipse cx="120.7" cy="1468.7" rx="4.35" ry="4.45" fill="#5699dc" stroke="#4a83c2" stroke-width="0.9"/>
<ellipse cx="124.1" cy="1465.3" rx="4.35" ry="4.45" fill="#5699dc" stroke="#4a83c2" stroke-width="0.9"/>
<ellipse cx="130.9" cy="1458.2" rx="4.35" ry="4.45" fill="#5699dc" stroke="#4a83c2" stroke-width="0.9"/>
<ellipse cx="137.6" cy="1451.7" rx="4.35" ry="4.45" fill="#5699dc" stroke="#4a83c2" stroke-width="0.9"/>
<ellipse cx="144.4" cy="1445.2" rx="4.35" ry="4.45" fill="#5699dc" stroke="#4a83c2" stroke-width="0.9"/>
<ellipse cx="151.2" cy="1440.2" rx="4.35" ry="4.45" fill="#5699dc" stroke="#4a83c2" stroke-width="0.9"/>
<ellipse cx="158.0" cy="1436.5" rx="4.35" ry="4.45" fill="#5699dc" stroke="#4a83c2" stroke-width="0.9"/>
<ellipse cx="171.5" cy="1427.4" rx="4.35" ry="4.45" fill="#5699dc" stroke="#4a83c2" stroke-width="0.9"/>
<ellipse cx="185.1" cy="1419.9" rx="4.35" ry="4.45" fill="#5699dc" stroke="#4a83c2" stroke-width="0.9"/>
<ellipse cx="198.7" cy="1407.9" rx="4.35" ry="4.45" fill="#5699dc" stroke="#4a83c2" stroke-width="0.9"/>
<ellipse cx="212.2" cy="1399.6" rx="4.35" ry="4.45" fill="#5699dc" stroke="#4a83c2" stroke-width="0.9"/>
<ellipse cx="225.8" cy="1392.5" rx="4.35" ry="4.45" fill="#5699dc" stroke="#4a83c2" stroke-width="0.9"/>
<ellipse cx="239.3" cy="1382.4" rx="4.35" ry="4.45" fill="#5699dc" stroke="#4a83c2" stroke-width="0.9"/>
<ellipse cx="252.9" cy="1378.1" rx="4.35" ry="4.45" fill="#5699dc" stroke="#4a83c2" stroke-width="0.9"/>
<ellipse cx="266.5" cy="1367.6" rx="4.35" ry="4.45" fill="#5699dc" stroke="#4a83c2" stroke-width="0.9"/>
<ellipse cx="280.0" cy="1362.5" rx="4.35" ry="4.45" fill="#5699dc" stroke="#4a83c2" stroke-width="0.9"/>
<ellipse cx="293.6" cy="1358.7" rx="4.35" ry="4.45" fill="#5699dc" stroke="#4a83c2" stroke-width="0.9"/>
<ellipse cx="307.1" cy="1356.5" rx="4.35" ry="4.45" fill="#5699dc" stroke="#4a83c2" stroke-width="0.9"/>
<ellipse cx="320.7" cy="1349.4" rx="4.35" ry="4.45" fill="#5699dc" stroke="#4a83c2" stroke-width="0.9"/>
<ellipse cx="334.3" cy="1346.9" rx="4.35" ry="4.45" fill="#5699dc" stroke="#4a83c2" stroke-width="0.9"/>
<ellipse cx="347.8" cy="1343.1" rx="4.35" ry="4.45" fill="#5699dc" stroke="#4a83c2" stroke-width="0.9"/>
<ellipse cx="361.4" cy="1340.0" rx="4.35" ry="4.45" fill="#5699dc" stroke="#4a83c2" stroke-width="0.9"/>
<ellipse cx="374.9" cy="1336.2" rx="4.35" ry="4.45" fill="#5699dc" stroke="#4a83c2" stroke-width="0.9"/>
<ellipse cx="388.5" cy="1337.8" rx="4.35" ry="4.45" fill="#5699dc" stroke="#4a83c2" stroke-width="0.9"/>
<ellipse cx="402.1" cy="1334.4" rx="4.35" ry="4.45" fill="#5699dc" stroke="#4a83c2" stroke-width="0.9"/>
<ellipse cx="415.6" cy="1327.9" rx="4.35" ry="4.45" fill="#5699dc" stroke="#4a83c2" stroke-width="0.9"/>
<ellipse cx="429.2" cy="1323.8" rx="4.35" ry="4.45" fill="#5699dc" stroke="#4a83c2" stroke-width="0.9"/>
<ellipse cx="442.7" cy="1324.4" rx="4.35" ry="4.45" fill="#5699dc" stroke="#4a83c2" stroke-width="0.9"/>
<ellipse cx="456.3" cy="1323.8" rx="4.35" ry="4.45" fill="#5699dc" stroke="#4a83c2" stroke-width="0.9"/>
<ellipse cx="469.9" cy="1321.0" rx="4.35" ry="4.45" fill="#5699dc" stroke="#4a83c2" stroke-width="0.9"/>
<ellipse cx="483.4" cy="1321.0" rx="4.35" ry="4.45" fill="#5699dc" stroke="#4a83c2" stroke-width="0.9"/>
<ellipse cx="497.0" cy="1319.2" rx="4.35" ry="4.45" fill="#5699dc" stroke="#4a83c2" stroke-width="0.9"/>
<ellipse cx="510.5" cy="1321.0" rx="4.35" ry="4.45" fill="#5699dc" stroke="#4a83c2" stroke-width="0.9"/>
<ellipse cx="524.1" cy="1323.8" rx="4.35" ry="4.45" fill="#5699dc" stroke="#4a83c2" stroke-width="0.9"/>
<ellipse cx="537.7" cy="1320.0" rx="4.35" ry="4.45" fill="#5699dc" stroke="#4a83c2" stroke-width="0.9"/>
<ellipse cx="551.2" cy="1325.1" rx="4.35" ry="4.45" fill="#5699dc" stroke="#4a83c2" stroke-width="0.9"/>
<ellipse cx="564.8" cy="1323.0" rx="4.35" ry="4.45" fill="#5699dc" stroke="#4a83c2" stroke-width="0.9"/>
<ellipse cx="578.3" cy="1320.0" rx="4.35" ry="4.45" fill="#5699dc" stroke="#4a83c2" stroke-width="0.9"/>
<ellipse cx="591.9" cy="1321.4" rx="4.35" ry="4.45" fill="#5699dc" stroke="#4a83c2" stroke-width="0.9"/>
<path d="M117.3 1483.8L122.3 1489.2L117.3 1494.6L112.3 1489.2Z" fill="#ffc000" stroke="#ecbf00" stroke-width="0.6" stroke-linejoin="round"/>
<path d="M120.7 1454.4L125.7 1459.8L120.7 1465.2L115.7 1459.8Z" fill="#ffc000" stroke="#ecbf00" stroke-width="0.6" stroke-linejoin="round"/>
<path d="M124.1 1450.4L129.1 1455.8L124.1 1461.2L119.1 1455.8Z" fill="#ffc000" stroke="#ecbf00" stroke-width="0.6" stroke-linejoin="round"/>
<path d="M130.9 1442.3L135.9 1447.7L130.9 1453.1L125.8 1447.7Z" fill="#ffc000" stroke="#ecbf00" stroke-width="0.6" stroke-linejoin="round"/>
<path d="M137.6 1434.2L142.7 1439.6L137.6 1445.0L132.6 1439.6Z" fill="#ffc000" stroke="#ecbf00" stroke-width="0.6" stroke-linejoin="round"/>
<path d="M144.4 1428.3L149.4 1433.7L144.4 1439.1L139.4 1433.7Z" fill="#ffc000" stroke="#ecbf00" stroke-width="0.6" stroke-linejoin="round"/>
<path d="M151.2 1417.9L156.2 1423.3L151.2 1428.7L146.2 1423.3Z" fill="#ffc000" stroke="#ecbf00" stroke-width="0.6" stroke-linejoin="round"/>
<path d="M158.0 1412.7L163.0 1418.1L158.0 1423.5L153.0 1418.1Z" fill="#ffc000" stroke="#ecbf00" stroke-width="0.6" stroke-linejoin="round"/>
<path d="M171.5 1396.3L176.6 1401.7L171.5 1407.1L166.5 1401.7Z" fill="#ffc000" stroke="#ecbf00" stroke-width="0.6" stroke-linejoin="round"/>
<path d="M185.1 1383.1L190.1 1388.5L185.1 1393.9L180.1 1388.5Z" fill="#ffc000" stroke="#ecbf00" stroke-width="0.6" stroke-linejoin="round"/>
<path d="M198.7 1369.7L203.7 1375.1L198.7 1380.5L193.6 1375.1Z" fill="#ffc000" stroke="#ecbf00" stroke-width="0.6" stroke-linejoin="round"/>
<path d="M212.2 1354.3L217.2 1359.7L212.2 1365.1L207.2 1359.7Z" fill="#ffc000" stroke="#ecbf00" stroke-width="0.6" stroke-linejoin="round"/>
<path d="M225.8 1342.6L230.8 1348.0L225.8 1353.4L220.8 1348.0Z" fill="#ffc000" stroke="#ecbf00" stroke-width="0.6" stroke-linejoin="round"/>
<path d="M239.3 1335.5L244.4 1340.9L239.3 1346.3L234.3 1340.9Z" fill="#ffc000" stroke="#ecbf00" stroke-width="0.6" stroke-linejoin="round"/>
<path d="M252.9 1322.1L257.9 1327.5L252.9 1332.9L247.9 1327.5Z" fill="#ffc000" stroke="#ecbf00" stroke-width="0.6" stroke-linejoin="round"/>
<path d="M266.5 1317.8L271.5 1323.2L266.5 1328.6L261.4 1323.2Z" fill="#ffc000" stroke="#ecbf00" stroke-width="0.6" stroke-linejoin="round"/>
<path d="M280.0 1305.1L285.0 1310.5L280.0 1315.9L275.0 1310.5Z" fill="#ffc000" stroke="#ecbf00" stroke-width="0.6" stroke-linejoin="round"/>
<path d="M293.6 1299.8L298.6 1305.2L293.6 1310.6L288.6 1305.2Z" fill="#ffc000" stroke="#ecbf00" stroke-width="0.6" stroke-linejoin="round"/>
<path d="M307.1 1292.1L312.2 1297.5L307.1 1302.9L302.1 1297.5Z" fill="#ffc000" stroke="#ecbf00" stroke-width="0.6" stroke-linejoin="round"/>
<path d="M320.7 1287.4L325.7 1292.8L320.7 1298.2L315.7 1292.8Z" fill="#ffc000" stroke="#ecbf00" stroke-width="0.6" stroke-linejoin="round"/>
<path d="M334.3 1284.8L339.3 1290.2L334.3 1295.6L329.2 1290.2Z" fill="#ffc000" stroke="#ecbf00" stroke-width="0.6" stroke-linejoin="round"/>
<path d="M347.8 1271.2L352.8 1276.6L347.8 1282.0L342.8 1276.6Z" fill="#ffc000" stroke="#ecbf00" stroke-width="0.6" stroke-linejoin="round"/>
<path d="M361.4 1267.6L366.4 1273.0L361.4 1278.4L356.4 1273.0Z" fill="#ffc000" stroke="#ecbf00" stroke-width="0.6" stroke-linejoin="round"/>
<path d="M374.9 1261.9L380.0 1267.3L374.9 1272.7L369.9 1267.3Z" fill="#ffc000" stroke="#ecbf00" stroke-width="0.6" stroke-linejoin="round"/>
<path d="M388.5 1256.6L393.5 1262.0L388.5 1267.4L383.5 1262.0Z" fill="#ffc000" stroke="#ecbf00" stroke-width="0.6" stroke-linejoin="round"/>
<path d="M402.1 1252.4L407.1 1257.8L402.1 1263.2L397.0 1257.8Z" fill="#ffc000" stroke="#ecbf00" stroke-width="0.6" stroke-linejoin="round"/>
<path d="M415.6 1246.7L420.6 1252.1L415.6 1257.5L410.6 1252.1Z" fill="#ffc000" stroke="#ecbf00" stroke-width="0.6" stroke-linejoin="round"/>
<path d="M429.2 1243.7L434.2 1249.1L429.2 1254.5L424.2 1249.1Z" fill="#ffc000" stroke="#ecbf00" stroke-width="0.6" stroke-linejoin="round"/>
<path d="M442.7 1242.6L447.8 1248.0L442.7 1253.4L437.7 1248.0Z" fill="#ffc000" stroke="#ecbf00" stroke-width="0.6" stroke-linejoin="round"/>
<path d="M456.3 1237.4L461.3 1242.8L456.3 1248.2L451.3 1242.8Z" fill="#ffc000" stroke="#ecbf00" stroke-width="0.6" stroke-linejoin="round"/>
<path d="M469.9 1234.3L474.9 1239.7L469.9 1245.1L464.8 1239.7Z" fill="#ffc000" stroke="#ecbf00" stroke-width="0.6" stroke-linejoin="round"/>
<path d="M483.4 1237.8L488.4 1243.2L483.4 1248.6L478.4 1243.2Z" fill="#ffc000" stroke="#ecbf00" stroke-width="0.6" stroke-linejoin="round"/>
<path d="M497.0 1233.7L502.0 1239.1L497.0 1244.5L492.0 1239.1Z" fill="#ffc000" stroke="#ecbf00" stroke-width="0.6" stroke-linejoin="round"/>
<path d="M510.5 1230.1L515.6 1235.5L510.5 1240.9L505.5 1235.5Z" fill="#ffc000" stroke="#ecbf00" stroke-width="0.6" stroke-linejoin="round"/>
<path d="M524.1 1227.0L529.1 1232.4L524.1 1237.8L519.1 1232.4Z" fill="#ffc000" stroke="#ecbf00" stroke-width="0.6" stroke-linejoin="round"/>
<path d="M537.7 1230.1L542.7 1235.5L537.7 1240.9L532.6 1235.5Z" fill="#ffc000" stroke="#ecbf00" stroke-width="0.6" stroke-linejoin="round"/>
<path d="M551.2 1223.2L556.2 1228.6L551.2 1234.0L546.2 1228.6Z" fill="#ffc000" stroke="#ecbf00" stroke-width="0.6" stroke-linejoin="round"/>
<path d="M564.8 1222.2L569.8 1227.6L564.8 1233.0L559.8 1227.6Z" fill="#ffc000" stroke="#ecbf00" stroke-width="0.6" stroke-linejoin="round"/>
<path d="M578.3 1218.3L583.4 1223.7L578.3 1229.1L573.3 1223.7Z" fill="#ffc000" stroke="#ecbf00" stroke-width="0.6" stroke-linejoin="round"/>
<path d="M591.9 1213.3L596.9 1218.7L591.9 1224.1L586.9 1218.7Z" fill="#ffc000" stroke="#ecbf00" stroke-width="0.6" stroke-linejoin="round"/>
<path d="M117.3 1483.8L122.5 1494.6L112.1 1494.6Z" fill="#ff0000" stroke="#d80000" stroke-width="0.6" stroke-linejoin="round"/>
<path d="M120.7 1438.8L125.9 1449.6L115.5 1449.6Z" fill="#ff0000" stroke="#d80000" stroke-width="0.6" stroke-linejoin="round"/>
<path d="M124.1 1427.1L129.3 1437.9L118.9 1437.9Z" fill="#ff0000" stroke="#d80000" stroke-width="0.6" stroke-linejoin="round"/>
<path d="M130.9 1396.7L136.1 1407.5L125.7 1407.5Z" fill="#ff0000" stroke="#d80000" stroke-width="0.6" stroke-linejoin="round"/>
<path d="M137.6 1383.3L142.8 1394.1L132.4 1394.1Z" fill="#ff0000" stroke="#d80000" stroke-width="0.6" stroke-linejoin="round"/>
<path d="M144.4 1370.3L149.6 1381.1L139.2 1381.1Z" fill="#ff0000" stroke="#d80000" stroke-width="0.6" stroke-linejoin="round"/>
<path d="M151.2 1360.6L156.4 1371.4L146.0 1371.4Z" fill="#ff0000" stroke="#d80000" stroke-width="0.6" stroke-linejoin="round"/>
<path d="M158.0 1353.5L163.2 1364.3L152.8 1364.3Z" fill="#ff0000" stroke="#d80000" stroke-width="0.6" stroke-linejoin="round"/>
<path d="M171.5 1338.1L176.7 1348.9L166.3 1348.9Z" fill="#ff0000" stroke="#d80000" stroke-width="0.6" stroke-linejoin="round"/>
<path d="M185.1 1326.9L190.3 1337.7L179.9 1337.7Z" fill="#ff0000" stroke="#d80000" stroke-width="0.6" stroke-linejoin="round"/>
<path d="M198.7 1314.6L203.9 1325.4L193.5 1325.4Z" fill="#ff0000" stroke="#d80000" stroke-width="0.6" stroke-linejoin="round"/>
<path d="M212.2 1300.4L217.4 1311.2L207.0 1311.2Z" fill="#ff0000" stroke="#d80000" stroke-width="0.6" stroke-linejoin="round"/>
<path d="M225.8 1286.0L231.0 1296.8L220.6 1296.8Z" fill="#ff0000" stroke="#d80000" stroke-width="0.6" stroke-linejoin="round"/>
<path d="M239.3 1266.6L244.5 1277.4L234.1 1277.4Z" fill="#ff0000" stroke="#d80000" stroke-width="0.6" stroke-linejoin="round"/>
<path d="M252.9 1249.1L258.1 1259.9L247.7 1259.9Z" fill="#ff0000" stroke="#d80000" stroke-width="0.6" stroke-linejoin="round"/>
<path d="M266.5 1236.0L271.7 1246.8L261.3 1246.8Z" fill="#ff0000" stroke="#d80000" stroke-width="0.6" stroke-linejoin="round"/>
<path d="M280.0 1221.0L285.2 1231.8L274.8 1231.8Z" fill="#ff0000" stroke="#d80000" stroke-width="0.6" stroke-linejoin="round"/>
<path d="M293.6 1216.1L298.8 1226.9L288.4 1226.9Z" fill="#ff0000" stroke="#d80000" stroke-width="0.6" stroke-linejoin="round"/>
<path d="M307.1 1209.2L312.3 1220.0L301.9 1220.0Z" fill="#ff0000" stroke="#d80000" stroke-width="0.6" stroke-linejoin="round"/>
<path d="M320.7 1202.9L325.9 1213.7L315.5 1213.7Z" fill="#ff0000" stroke="#d80000" stroke-width="0.6" stroke-linejoin="round"/>
<path d="M334.3 1196.4L339.5 1207.2L329.1 1207.2Z" fill="#ff0000" stroke="#d80000" stroke-width="0.6" stroke-linejoin="round"/>
<path d="M347.8 1189.3L353.0 1200.1L342.6 1200.1Z" fill="#ff0000" stroke="#d80000" stroke-width="0.6" stroke-linejoin="round"/>
<path d="M361.4 1182.1L366.6 1192.9L356.2 1192.9Z" fill="#ff0000" stroke="#d80000" stroke-width="0.6" stroke-linejoin="round"/>
<path d="M374.9 1180.6L380.1 1191.4L369.7 1191.4Z" fill="#ff0000" stroke="#d80000" stroke-width="0.6" stroke-linejoin="round"/>
<path d="M388.5 1172.9L393.7 1183.7L383.3 1183.7Z" fill="#ff0000" stroke="#d80000" stroke-width="0.6" stroke-linejoin="round"/>
<path d="M402.1 1162.6L407.3 1173.4L396.9 1173.4Z" fill="#ff0000" stroke="#d80000" stroke-width="0.6" stroke-linejoin="round"/>
<path d="M415.6 1152.1L420.8 1162.9L410.4 1162.9Z" fill="#ff0000" stroke="#d80000" stroke-width="0.6" stroke-linejoin="round"/>
<path d="M429.2 1149.6L434.4 1160.4L424.0 1160.4Z" fill="#ff0000" stroke="#d80000" stroke-width="0.6" stroke-linejoin="round"/>
<path d="M442.7 1145.4L447.9 1156.2L437.5 1156.2Z" fill="#ff0000" stroke="#d80000" stroke-width="0.6" stroke-linejoin="round"/>
<path d="M456.3 1136.5L461.5 1147.3L451.1 1147.3Z" fill="#ff0000" stroke="#d80000" stroke-width="0.6" stroke-linejoin="round"/>
<path d="M469.9 1133.6L475.1 1144.4L464.7 1144.4Z" fill="#ff0000" stroke="#d80000" stroke-width="0.6" stroke-linejoin="round"/>
<path d="M483.4 1129.2L488.6 1140.0L478.2 1140.0Z" fill="#ff0000" stroke="#d80000" stroke-width="0.6" stroke-linejoin="round"/>
<path d="M497.0 1124.1L502.2 1134.9L491.8 1134.9Z" fill="#ff0000" stroke="#d80000" stroke-width="0.6" stroke-linejoin="round"/>
<path d="M510.5 1127.1L515.7 1137.9L505.3 1137.9Z" fill="#ff0000" stroke="#d80000" stroke-width="0.6" stroke-linejoin="round"/>
<path d="M524.1 1124.9L529.3 1135.7L518.9 1135.7Z" fill="#ff0000" stroke="#d80000" stroke-width="0.6" stroke-linejoin="round"/>
<path d="M537.7 1118.0L542.9 1128.8L532.5 1128.8Z" fill="#ff0000" stroke="#d80000" stroke-width="0.6" stroke-linejoin="round"/>
<path d="M551.2 1116.2L556.4 1127.0L546.0 1127.0Z" fill="#ff0000" stroke="#d80000" stroke-width="0.6" stroke-linejoin="round"/>
<path d="M564.8 1113.8L570.0 1124.6L559.6 1124.6Z" fill="#ff0000" stroke="#d80000" stroke-width="0.6" stroke-linejoin="round"/>
<path d="M578.3 1108.3L583.5 1119.1L573.1 1119.1Z" fill="#ff0000" stroke="#d80000" stroke-width="0.6" stroke-linejoin="round"/>
<path d="M591.9 1105.2L597.1 1116.0L586.7 1116.0Z" fill="#ff0000" stroke="#d80000" stroke-width="0.6" stroke-linejoin="round"/>
<rect x="499.9" y="1374.9" width="141.4" height="99.2" fill="#fff" stroke="#000" stroke-width="2.6" stroke-linejoin="round"/>
<ellipse cx="518.5" cy="1391.0" rx="4.0" ry="4.10" fill="#5699dc" stroke="#4a83c2" stroke-width="0.9"/>
<path d="M518.5 1419.5L523.1 1424.5L518.5 1429.5L513.9 1424.5Z" fill="#ffc000" stroke="#ecbf00" stroke-width="0.6" stroke-linejoin="round"/>
<path d="M518.5 1454.3L523.3 1464.3L513.7 1464.3Z" fill="#ff0000" stroke="#d80000" stroke-width="0.6" stroke-linejoin="round"/>
<text x="537.6" y="1397.2" font-size="21.3" letter-spacing="0.5">49kN/m<tspan font-size="14.5" dy="-6.0">2</tspan></text>
<text x="537.6" y="1432.0" font-size="21.3" letter-spacing="0.5">98kN/m<tspan font-size="14.5" dy="-6.0">2</tspan></text>
<text x="537.6" y="1468.0" font-size="21.3" letter-spacing="0.5">147kN/m<tspan font-size="14.5" dy="-6.0">2</tspan></text>
<text x="93.8" y="1497.7" font-size="26.2" text-anchor="end">0</text>
<text x="93.8" y="1457.2" font-size="26.2" text-anchor="end">20</text>
<text x="93.8" y="1416.6" font-size="26.2" text-anchor="end">40</text>
<text x="93.8" y="1376.1" font-size="26.2" text-anchor="end">60</text>
<text x="93.8" y="1335.6" font-size="26.2" text-anchor="end">80</text>
<text x="93.8" y="1295.1" font-size="26.2" text-anchor="end">100</text>
<text x="93.8" y="1254.5" font-size="26.2" text-anchor="end">120</text>
<text x="93.8" y="1214.0" font-size="26.2" text-anchor="end">140</text>
<text x="93.8" y="1173.5" font-size="26.2" text-anchor="end">160</text>
<text x="93.8" y="1132.9" font-size="26.2" text-anchor="end">180</text>
<text x="93.8" y="1092.4" font-size="26.2" text-anchor="end">200</text>
<text x="117.3" y="1529.0" font-size="26.2" text-anchor="middle">0</text>
<text x="252.9" y="1529.0" font-size="26.2" text-anchor="middle">20</text>
<text x="388.5" y="1529.0" font-size="26.2" text-anchor="middle">40</text>
<text x="524.1" y="1529.0" font-size="26.2" text-anchor="middle">60</text>
<text x="659.7" y="1529.0" font-size="26.2" text-anchor="middle">80</text>
<text x="242.2" y="1575.5" font-size="29.5">Shear displacement (mm)</text>
<text transform="translate(28.7 1310.2) rotate(-90)" x="0" y="0" font-size="29.9" text-anchor="middle">Shear stress &#964; (kN/m<tspan font-size="19.7" dy="-9.0">2</tspan><tspan dy="9.0">)</tspan></text>
<text x="349.5" y="1627.7" font-size="28" text-anchor="middle">(c)</text>
</svg>
</body></html>
